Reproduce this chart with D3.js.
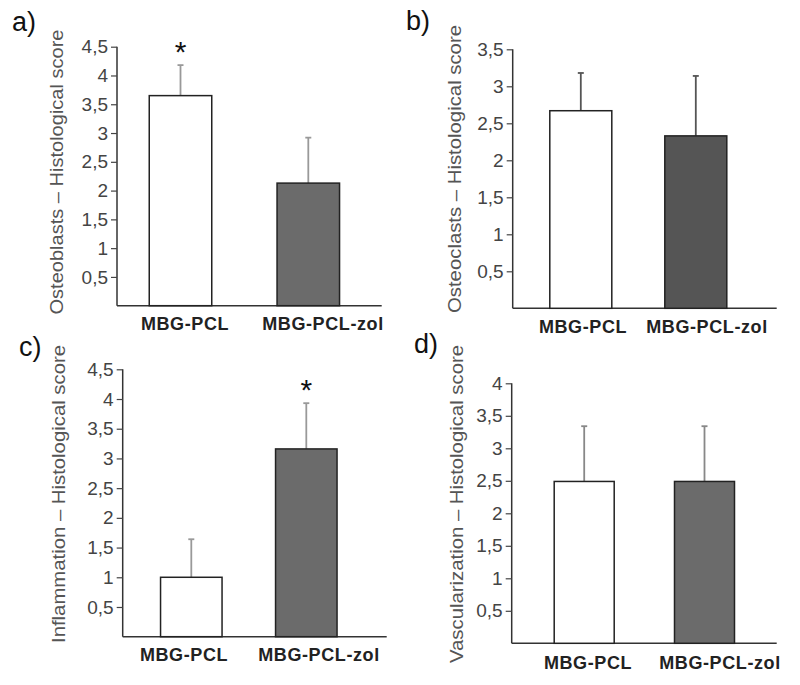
<!DOCTYPE html>
<html>
<head>
<meta charset="utf-8">
<script src="https://cdn.jsdelivr.net/npm/d3@7"></script>
<style>
  html, body { margin: 0; padding: 0; background: #fff; }
  svg { display: block; }
</style>
</head>
<body>
<svg id="chart" width="800" height="685"></svg>
<script>
// ---- data ----
const categories = ["MBG-PCL", "MBG-PCL-zol"];
const panelLetters = ["a)", "b)", "c)", "d)"];
const yTitles = [
  "Osteoblasts \u2013 Histological score",
  "Osteoclasts \u2013 Histological score",
  "Inflammation \u2013 Histological score",
  "Vascularization \u2013 Histological score"
];
const meansA = [3.65, 2.13];
const errA   = [0.53, 0.79];
const meansB = [2.67, 2.33];
const errB   = [0.51, 0.81];
const meansC = [1.00, 3.16];
const errC   = [0.64, 0.77];
const meansD = [2.49, 2.49];
const errD   = [0.85, 0.85];
const yMaxes = [4.5, 3.5, 4.5, 4];
const sigA = [true, false];
const sigB = [false, false];
const sigC = [false, true];
const sigD = [false, false];

const means = [meansA, meansB, meansC, meansD];
const errs = [errA, errB, errC, errD];
const sigs = [sigA, sigB, sigC, sigD];

// ---- layout (positions / styles) ----
const layout = [
  { ax: 117,   top: 46.7,  base: 305.7, xEnd: 381.7, bars: [180.5, 308.3], bw: 62.5, labs: [185, 323], labY: 330,
    letX: 12, letY: 31, titleX: 56, titleY: 172, titleLen: 285, fill2: "#6b6b6b", err: "#999" },
  { ax: 512.7, top: 49.3,  base: 308.3, xEnd: 776.7, bars: [580.8, 695.8], bw: 62,   labs: [583, 707], labY: 333,
    letX: 406, letY: 30, titleX: 454, titleY: 169, titleLen: 288, fill2: "#555555", err: "#555" },
  { ax: 122.7, top: 369.3, base: 636.7, xEnd: 386.7, bars: [191.3, 306.3], bw: 61.5, labs: [184, 319], labY: 661,
    letX: 19, letY: 356, titleX: 58, titleY: 494, titleLen: 298, fill2: "#6b6b6b", err: "#999" },
  { ax: 511.7, top: 383.3, base: 643.3, xEnd: 776.7, bars: [584.2, 704.5], bw: 60,   labs: [588, 720], labY: 669,
    letX: 414, letY: 353, titleX: 456, titleY: 504, titleLen: 318, fill2: "#6b6b6b", err: "#888" }
];

const svg = d3.select("#chart");
const fmt = d => String(d).replace(".", ",");
const FONT = "'Liberation Sans', Arial, sans-serif";

layout.forEach((L, i) => {
  const g = svg.append("g");
  const y = d3.scaleLinear().domain([0, yMaxes[i]]).range([L.base, L.top]);
  const xBar = d3.scalePoint().domain(categories).range(L.bars);
  const xLab = d3.scalePoint().domain(categories).range(L.labs);
  const ticks = d3.range(0.5, yMaxes[i] + 0.001, 0.5);

  // y axis
  const axis = g.append("g")
    .attr("transform", `translate(${L.ax},0)`)
    .call(d3.axisLeft(y).tickValues(ticks).tickSize(6).tickSizeOuter(0).tickPadding(3).tickFormat(fmt));
  axis.select(".domain").attr("stroke", "#333").attr("stroke-width", 1.5)
    .attr("d", `M0,${L.top}V${L.base}`);
  axis.selectAll(".tick line").attr("stroke", "#444").attr("stroke-width", 1.2);
  axis.selectAll(".tick text")
    .attr("fill", "#444")
    .style("font-family", FONT)
    .style("font-size", "19px");

  // baseline
  g.append("line")
    .attr("x1", L.ax).attr("x2", L.xEnd)
    .attr("y1", y(0)).attr("y2", y(0))
    .attr("stroke", "#333").attr("stroke-width", 1.5);

  const data = categories.map((c, j) => ({ c, m: means[i][j], e: errs[i][j], s: sigs[i][j], j }));

  // error bars
  const eb = g.selectAll(".eb").data(data).enter().append("g");
  eb.append("line")
    .attr("x1", d => xBar(d.c)).attr("x2", d => xBar(d.c))
    .attr("y1", d => y(d.m)).attr("y2", d => y(d.m + d.e))
    .attr("stroke", L.err).attr("stroke-width", 1.8);
  eb.append("line")
    .attr("x1", d => xBar(d.c) - 3).attr("x2", d => xBar(d.c) + 3)
    .attr("y1", d => y(d.m + d.e)).attr("y2", d => y(d.m + d.e))
    .attr("stroke", L.err).attr("stroke-width", 1.8);

  // bars
  g.selectAll(".bar").data(data).enter().append("rect")
    .attr("x", d => xBar(d.c) - L.bw / 2)
    .attr("width", L.bw)
    .attr("y", d => y(d.m))
    .attr("height", d => y(0) - y(d.m))
    .attr("fill", d => d.j === 0 ? "#ffffff" : L.fill2)
    .attr("stroke", "#222").attr("stroke-width", 1.5);

  // significance stars
  g.selectAll(".star").data(data.filter(d => d.s)).enter().append("text")
    .attr("x", d => xBar(d.c))
    .attr("y", d => y(d.m + d.e) - 3)
    .attr("text-anchor", "middle")
    .attr("fill", "#111")
    .style("font-family", FONT)
    .style("font-size", "30px")
    .text("*");

  // category labels
  g.selectAll(".cat").data(categories).enter().append("text")
    .attr("x", c => xLab(c))
    .attr("y", L.labY)
    .attr("text-anchor", "middle")
    .attr("fill", "#222")
    .style("font-family", FONT)
    .style("font-weight", "bold")
    .style("font-size", "18px")
    .style("letter-spacing", "0.6px")
    .text(c => c);

  // y title
  g.append("text")
    .attr("transform", `translate(${L.titleX},${L.titleY}) rotate(-90)`)
    .attr("text-anchor", "middle")
    .attr("dy", "0.35em")
    .attr("fill", "#555")
    .attr("textLength", L.titleLen)
    .attr("lengthAdjust", "spacingAndGlyphs")
    .style("font-family", FONT)
    .style("font-size", "19px")
    .text(yTitles[i]);

  // panel letter
  g.append("text")
    .attr("x", L.letX).attr("y", L.letY)
    .attr("fill", "#111")
    .style("font-family", FONT)
    .style("font-size", "27px")
    .text(panelLetters[i]);
});
</script>
</body>
</html>
